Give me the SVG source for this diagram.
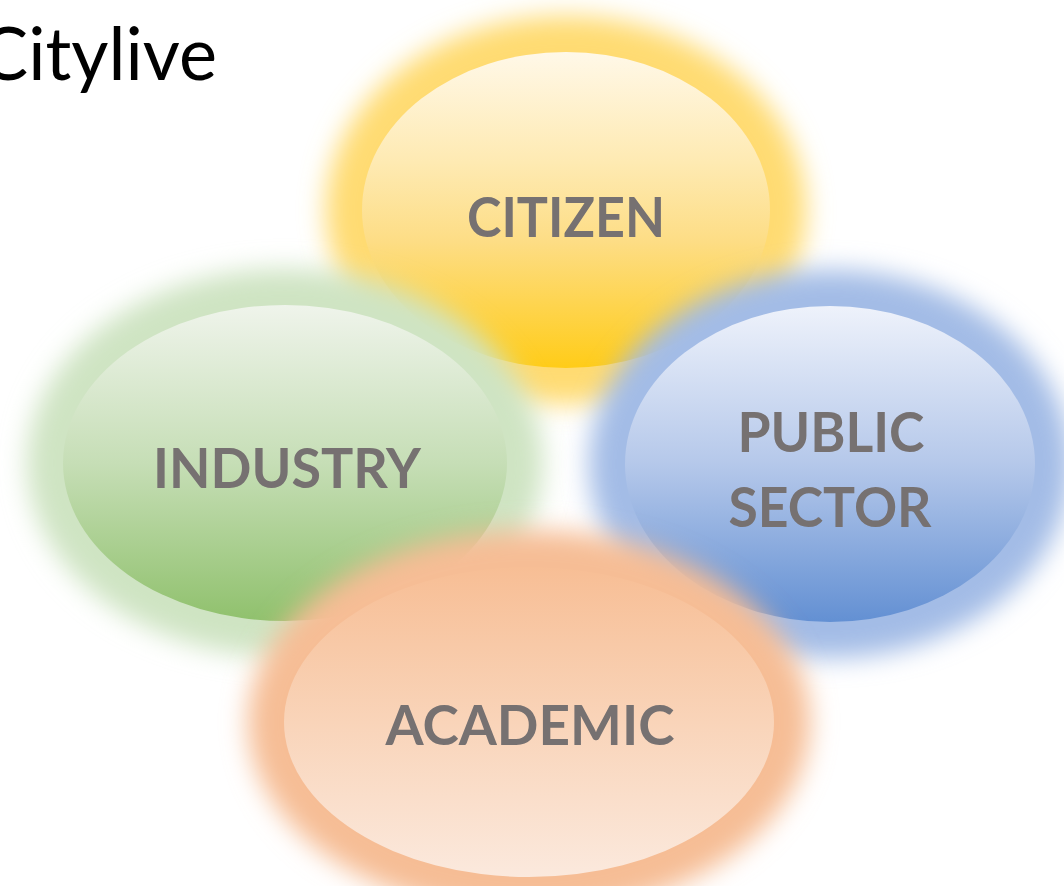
<svg xmlns="http://www.w3.org/2000/svg" width="1064" height="886" viewBox="0 0 1064 886">
<style>
.lbl{font-family:Lato,"Open Sans","Liberation Sans",sans-serif;font-weight:700;font-size:56px;fill:#767171;text-anchor:middle}
.title{font-family:Lato,"Open Sans","Liberation Sans",sans-serif;font-size:74px;fill:#000}
.glow{filter:url(#blur)}
</style>
<defs>
<filter id="blur" x="-30%" y="-30%" width="160%" height="160%"><feGaussianBlur stdDeviation="13"/></filter>
<linearGradient id="gY" x1="0" y1="0" x2="0" y2="1">
<stop offset="0" stop-color="#FFF8E8"/><stop offset="0.35" stop-color="#FEEAB2"/><stop offset="0.6" stop-color="#FDDD85"/><stop offset="1" stop-color="#FFCC18"/>
</linearGradient>
<linearGradient id="gG" x1="0" y1="0" x2="0" y2="1">
<stop offset="0" stop-color="#EFF4EB"/><stop offset="0.5" stop-color="#C6DEB6"/><stop offset="1" stop-color="#90C16D"/>
</linearGradient>
<linearGradient id="gB" x1="0" y1="0" x2="0" y2="1">
<stop offset="0" stop-color="#EEF2FB"/><stop offset="0.5" stop-color="#B5C8EA"/><stop offset="1" stop-color="#6390D3"/>
</linearGradient>
<linearGradient id="gO" x1="0" y1="0" x2="0" y2="1">
<stop offset="0" stop-color="#F7BE95"/><stop offset="0.5" stop-color="#F9D4B9"/><stop offset="1" stop-color="#FBE9DD"/>
</linearGradient>
</defs>
<rect width="1064" height="886" fill="#FFFFFF"/>
<text class="title" x="-20" y="80" textLength="237" lengthAdjust="spacingAndGlyphs">Citylive</text>
<g id="citizen">
<ellipse class="glow" cx="566" cy="210" rx="240" ry="194" fill="#FFDB72"/>
<ellipse cx="566" cy="210" rx="204" ry="158" fill="url(#gY)"/>
<text class="lbl" x="566" y="237" textLength="198" lengthAdjust="spacingAndGlyphs">CITIZEN</text>
</g>
<g id="public-sector">
<ellipse class="glow" cx="830" cy="464" rx="241" ry="194" fill="#A3BCE6"/>
<ellipse cx="830" cy="464" rx="205" ry="158" fill="url(#gB)"/>
<text class="lbl" x="831" y="452" textLength="187" lengthAdjust="spacingAndGlyphs">PUBLIC</text>
<text class="lbl" x="830" y="527" textLength="203" lengthAdjust="spacingAndGlyphs">SECTOR</text>
</g>
<g id="industry">
<ellipse class="glow" cx="285" cy="463" rx="258" ry="194" fill="#CFE4C3"/>
<ellipse cx="285" cy="463" rx="222" ry="158" fill="url(#gG)"/>
<text class="lbl" x="287" y="488" textLength="268" lengthAdjust="spacingAndGlyphs">INDUSTRY</text>
</g>
<g id="academic">
<ellipse class="glow" cx="529" cy="722" rx="281" ry="192" fill="#F6BD95"/>
<ellipse cx="529" cy="722" rx="245" ry="155" fill="url(#gO)"/>
<text class="lbl" x="530" y="745" textLength="289" lengthAdjust="spacingAndGlyphs">ACADEMIC</text>
</g>
<g id="connectors"/>
</svg>
